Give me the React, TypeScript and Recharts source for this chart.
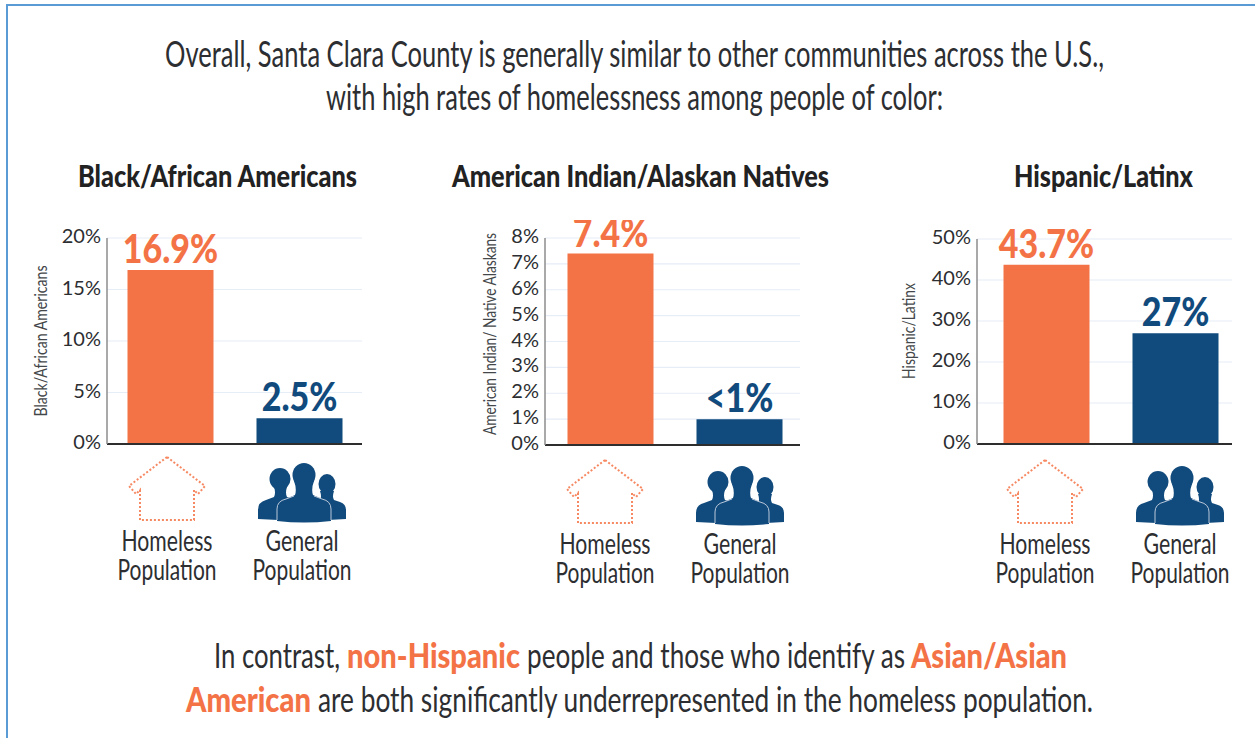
import { Bar, BarChart, CartesianGrid, Cell, LabelList, XAxis, YAxis } from "recharts";

const ORANGE = "#f47346";
const NAVY = "#114a7c";
const INK = "#2c2e31";
const SANS = "Lato, 'Open Sans', sans-serif";

const groups = ["Homeless", "General"];
const groupLabels = [
  ["Homeless", "Population"],
  ["General", "Population"],
];

const blackValues = [16.9, 2.5];
const blackLabels = ["16.9%", "2.5%"];
const blackTicks = [0, 5, 10, 15, 20];

const nativeValues = [7.4, 1];
const nativeLabels = ["7.4%", "<1%"];
const nativeTicks = [0, 1, 2, 3, 4, 5, 6, 7, 8];

const latinxValues = [43.7, 27];
const latinxLabels = ["43.7%", "27%"];
const latinxTicks = [0, 10, 20, 30, 40, 50];

function Fit({ x, y, w, size, weight = 400, fill = INK, children }: any) {
  // stretched to the measured width, the source font is a narrow one
  return (
    <text
      x={x}
      y={y}
      fontFamily={SANS}
      fontSize={size}
      fontWeight={weight}
      fill={fill}
      textLength={w}
      lengthAdjust="spacingAndGlyphs"
    >
      {children}
    </text>
  );
}

function House() {
  return (
    <polygon
      points="0,0 -38,29 -31,37 -27,33 -27,63 27,63 27,33 31,37 38,29"
      fill="none"
      stroke={ORANGE}
      strokeWidth={2}
      strokeDasharray="2 2"
      opacity={0.85}
    />
  );
}

function People() {
  return (
    <g fill={NAVY}>
      <ellipse cx={-22} cy={22} rx={10.5} ry={11} />
      <path d="M-44 62 V53 Q-44 45 -36 43 L-28 40 Q-26 36 -28 30 H-15 Q-17 36 -15 40 L-4 44 V64 Z" />
      <ellipse cx={25} cy={27} rx={8.5} ry={10} />
      <path d="M44 62 V53 Q44 47 38 45 L32 43 Q30 40 32 34 H18 Q20 40 18 43 L8 46 V64 Z" />
      <ellipse cx={2} cy={18} rx={11.5} ry={12} />
      <path d="M-25 64 V52 Q-25 44 -16 42 L-7 38 Q-5 32 -8 24 H12 Q9 32 11 38 L20 42 Q29 44 29 52 V64 Q2 67 -25 64 Z" />
      <path d="M-25 63 V52 Q-25 44 -16 42 L-8 39 M29 63 V52 Q29 44 20 42 L12 39" fill="none" stroke="#b9c8da" strokeWidth={1} />
    </g>
  );
}

function GroupTick({ x, y, payload, index, shift, drop }: any) {
  const i = index ?? groups.indexOf(payload.value);
  const [first, second] = groupLabels[i];
  const cx = x + shift[i];
  return (
    <g>
      <g transform={`translate(${cx},${y + drop})`}>{i === 0 ? <House /> : <People />}</g>
      <text x={cx} y={y + drop + 94} textAnchor="middle" fontFamily={SANS} fontSize={28} fill={INK} textLength={i === 0 ? 91 : 73} lengthAdjust="spacingAndGlyphs">
        {first}
      </text>
      <text x={cx} y={y + drop + 123} textAnchor="middle" fontFamily={SANS} fontSize={28} fill={INK} textLength={99} lengthAdjust="spacingAndGlyphs">
        {second}
      </text>
    </g>
  );
}

function PercentTick({ x, y, payload }: any) {
  return (
    <text x={x + 2} y={y + 5} textAnchor="end" fontFamily={SANS} fontSize={20} fill={INK}>
      {payload.value}%
    </text>
  );
}

function ValueLabel({ x, y, width, index, labels }: any) {
  const cx = x + width / 2;
  return (
    <text
      transform={`translate(${cx},${y - 7}) scale(0.85,1)`}
      textAnchor="middle"
      fontFamily={SANS}
      fontWeight={900}
      fontSize={40}
      fill={index === 0 ? ORANGE : NAVY}
    >
      {labels[index]}
    </text>
  );
}

function Panel({ left, top, bottom, values, labels, ticks, axisTitle, titleX, titleY, titleLen, pad, shift, drop }: any) {
  const data = groups.map((g, i) => ({ group: g, value: values[i] }));
  return (
    <div style={{ position: "absolute", left: left - 87, top: 220 }}>
      <BarChart
        width={360}
        height={385}
        data={data}
        barSize={86}
        margin={{ top: top - 220, right: 18, bottom: 0, left: 0 }}
      >
        <CartesianGrid vertical={false} stroke="#e6edf7" strokeWidth={1.2} />
        <XAxis
          dataKey="group"
          interval={0}
          height={605 - bottom}
          padding={pad}
          axisLine={{ stroke: "#2e2e2e", strokeWidth: 2 }}
          tickLine={false}
          tick={<GroupTick shift={shift} drop={drop} />}
        />
        <YAxis
          width={87}
          domain={[ticks[0], ticks[ticks.length - 1]]}
          ticks={ticks}
          interval={0}
          axisLine={{ stroke: "#8c8c8c", strokeWidth: 1.5 }}
          tickLine={false}
          tick={<PercentTick />}
          label={{
            content: () => (
              <text
                transform={`translate(${titleX},${titleY}) rotate(-90)`}
                textAnchor="middle"
                fontFamily={SANS}
                fontSize={17}
                fill="#44474a"
                textLength={titleLen}
                lengthAdjust="spacingAndGlyphs"
              >
                {axisTitle}
              </text>
            ),
          }}
        />
        <Bar dataKey="value" isAnimationActive={false}>
          {data.map((d, i) => (
            <Cell key={d.group} fill={i === 0 ? ORANGE : NAVY} />
          ))}
          <LabelList dataKey="value" content={<ValueLabel labels={labels} />} />
        </Bar>
      </BarChart>
    </div>
  );
}

export default function App() {
  return (
    <div style={{ position: "absolute", left: 0, top: 0, width: 1255, height: 738, background: "#fff", overflow: "hidden" }}>
      <div style={{ position: "absolute", left: 6, top: 4, right: 0, height: 2, background: "#5b9bd5" }} />
      <div style={{ position: "absolute", left: 6, top: 4, bottom: 0, width: 2, background: "#5b9bd5" }} />

      <svg width={1255} height={738} style={{ position: "absolute", left: 0, top: 0 }}>
        <Fit x={165} y={67} w={939} size={37}>
          Overall, Santa Clara County is generally similar to other communities across the U.S.,
        </Fit>
        <Fit x={326} y={110} w={617} size={37}>
          with high rates of homelessness among people of color:
        </Fit>

        <Fit x={78} y={187} w={279} size={31} weight={900} fill="#222">Black/African Americans</Fit>
        <Fit x={452} y={187} w={377} size={31} weight={900} fill="#222">American Indian/Alaskan Natives</Fit>
        <Fit x={1014} y={187} w={179} size={31} weight={900} fill="#222">Hispanic/Latinx</Fit>

        <Fit x={214} y={668} w={126} size={35}>In contrast,</Fit>
        <Fit x={347} y={668} w={173} size={35} weight={900} fill={ORANGE}>non-Hispanic</Fit>
        <Fit x={527} y={668} w={378} size={35}>people and those who identify as</Fit>
        <Fit x={911} y={668} w={156} size={35} weight={900} fill={ORANGE}>Asian/Asian</Fit>
        <Fit x={186} y={712} w={125} size={35} weight={900} fill={ORANGE}>American</Fit>
        <Fit x={318} y={712} w={775} size={35}>are both significantly underrepresented in the homeless population.</Fit>
      </svg>

      <Panel
        left={107}
        top={238}
        bottom={444}
        values={blackValues}
        labels={blackLabels}
        ticks={blackTicks}
        axisTitle="Black/African Americans"
        titleX={27}
        titleY={121}
        titleLen={151}
        pad={{ left: -1.5, right: -1.5 }}
        shift={[-3, 3]}
        drop={5}
      />
      <Panel
        left={545}
        top={238}
        bottom={445}
        values={nativeValues}
        labels={nativeLabels}
        ticks={nativeTicks}
        axisTitle="American Indian/ Native Alaskans"
        titleX={38}
        titleY={114}
        titleLen={202}
        pad={{ left: 0.5, right: -3.5 }}
        shift={[-5, 1]}
        drop={7}
      />
      <Panel
        left={977}
        top={239}
        bottom={444}
        values={latinxValues}
        labels={latinxLabels}
        ticks={latinxTicks}
        axisTitle="Hispanic/Latinx"
        titleX={25}
        titleY={111}
        titleLen={96}
        pad={{ left: 4.5, right: -7.5 }}
        shift={[-1, 5]}
        drop={8}
      />
    </div>
  );
}
